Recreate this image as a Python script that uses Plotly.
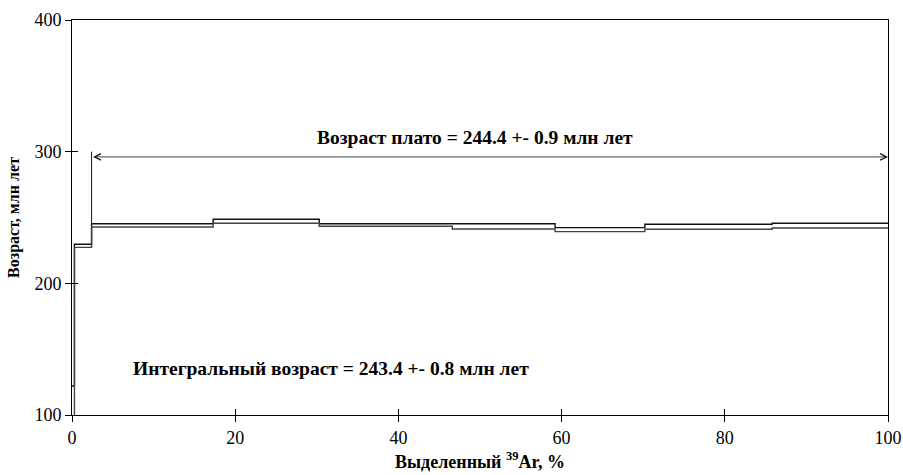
import plotly.graph_objects as go

# Step boundaries (% 39Ar released)
step_edges = [0, 0.3, 2.4, 17.3, 30.3, 46.6, 59.2, 70.2, 85.8, 100]
# Upper and lower bounds of age for each step (Ma)
age_upper = [122, 229.7, 245.3, 248.7, 245.3, 245.3, 242.3, 244.9, 245.6]
age_lower = [95, 227.3, 242.8, 245.6, 243.4, 241.3, 239.3, 241.1, 242.0]

x_ticks = [0, 20, 40, 60, 80, 100]
y_ticks = [100, 200, 300, 400]

plateau_start = 2.4
plateau_end = 100
plateau_arrow_y = 296
plateau_top = 300
plateau_label = "Возраст плато = 244.4 +- 0.9 млн лет"
integral_label = "Интегральный возраст = 243.4 +- 0.8 млн лет"

FONT = "Times New Roman, Liberation Serif, DejaVu Serif, serif"

fig = go.Figure()
fig.add_trace(go.Scatter(x=step_edges, y=age_upper + [age_upper[-1]], mode="lines",
                         line=dict(color="#111", width=1.4, shape="hv"), showlegend=False,
                         hoverinfo="skip"))
fig.add_trace(go.Scatter(x=step_edges, y=age_lower + [age_lower[-1]], mode="lines",
                         line=dict(color="#444", width=1.4, shape="hv"), showlegend=False,
                         hoverinfo="skip"))

# plateau vertical marker
fig.add_shape(type="line", x0=plateau_start, x1=plateau_start, y0=age_upper[2], y1=plateau_top,
              xref="x", yref="y", line=dict(color="#111", width=1))
# double arrow
fig.add_annotation(x=plateau_end, y=plateau_arrow_y, ax=plateau_start, ay=plateau_arrow_y,
                   xref="x", yref="y", axref="x", ayref="y", text="", showarrow=True,
                   arrowside="end+start", arrowhead=5, arrowsize=1.6, arrowwidth=0.8,
                   arrowcolor="#111")
fig.add_annotation(x=49.4, y=311, xref="x", yref="y", text="<b>" + plateau_label + "</b>",
                   showarrow=False, font=dict(family=FONT, size=19.5, color="black"))
fig.add_annotation(x=31.7, y=135.5, xref="x", yref="y", text="<b>" + integral_label + "</b>",
                   showarrow=False, font=dict(family=FONT, size=19.5, color="black"))

axis_common = dict(showgrid=False, zeroline=False, showline=True, linecolor="black",
                   linewidth=1, mirror=True, ticks="outside", ticklen=6, tickcolor="black",
                   tickwidth=1, automargin=False,
                   tickfont=dict(family=FONT, size=18, color="black"))
fig.update_xaxes(range=[0, 100], tickvals=x_ticks, ticktext=[str(v) for v in x_ticks],
                 title=dict(text="<b>Выделенный <sup>39</sup>Ar, %</b>", standoff=8,
                            font=dict(family=FONT, size=18, color="black")),
                 **axis_common)
fig.update_yaxes(range=[100, 400], tickvals=y_ticks, ticktext=[str(v) for v in y_ticks],
                 title=dict(text="<b>Возраст, млн лет</b>", standoff=10,
                            font=dict(family=FONT, size=16, color="black")),
                 **axis_common)

# inside ticks to emulate crossing ticks
fig.update_layout(
    xaxis2=dict(overlaying="x", range=[0, 100], tickvals=x_ticks, showticklabels=False,
                ticks="inside", ticklen=6, tickcolor="black", showgrid=False, zeroline=False,
                showline=False, automargin=False),
    yaxis2=dict(overlaying="y", range=[100, 400], tickvals=y_ticks, showticklabels=False,
                ticks="inside", ticklen=6, tickcolor="black", showgrid=False, zeroline=False,
                showline=False, automargin=False),
)
fig.add_trace(go.Scatter(x=[50], y=[250], xaxis="x2", yaxis="y2", mode="markers",
                         marker=dict(opacity=0), showlegend=False, hoverinfo="skip"))

fig.update_layout(width=903, height=475, margin=dict(l=72, r=15, t=20, b=60),
                  plot_bgcolor="white", paper_bgcolor="white", showlegend=False)

fig.write_html("out.html")
